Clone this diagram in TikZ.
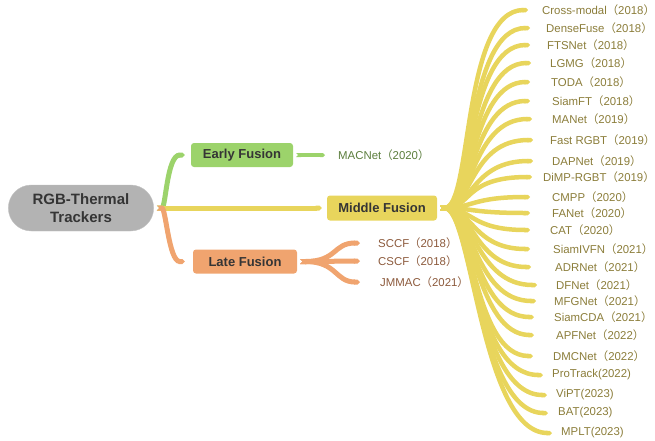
\documentclass[tikz,border=0pt]{standalone}
\usepackage{fontspec}
\setmainfont{Liberation Sans}
\newfontfamily\cjk{Noto Sans CJK SC}
\usetikzlibrary{positioning}
\usetikzlibrary{shapes.misc, arrows.meta}

\definecolor{rootgray}{HTML}{B3B3B3}
\definecolor{efgreen}{HTML}{9CD36B}
\definecolor{mfyellow}{HTML}{E8D55C}
\definecolor{lforange}{HTML}{F0A46F}
\definecolor{boxtext}{HTML}{353535}
\definecolor{midtext}{HTML}{8B7D3A}
\definecolor{latetext}{HTML}{8C5A3C}
\definecolor{earlytext}{HTML}{5B7D3C}

\newcommand\yr[1]{{\cjk （}#1{\cjk ）}}

\tikzset{
  rootbox/.style={rounded rectangle,fill=rootgray,draw=rootgray!80!white,
    minimum width=152pt,minimum height=46pt,align=center,text=boxtext,
    font=\bfseries\fontsize{15}{18}\selectfont},
  fusebox/.style={rectangle,rounded corners=3pt,minimum height=24pt,text=boxtext,
    font=\bfseries\fontsize{13}{15}\selectfont},
  leafm/.style={anchor=west,inner sep=0pt,text=midtext,font=\fontsize{11.4}{14}\selectfont},
  leafl/.style={leafm,text=latetext},
  leafe/.style={leafm,text=earlytext},
  branch/.style={draw=#1,line width=5pt,arrows={Triangle Cap[reversed]-Triangle Cap}}
}

\begin{document}
\begin{tikzpicture}[x=1pt,y=-1pt]
\useasboundingbox (0,0) rectangle (655,440);

\node[rootbox] (root) at (81,208) {RGB-Thermal\\Trackers};
\node[fusebox,fill=efgreen,minimum width=102pt] (early) at (242,155) {Early Fusion};
\node[fusebox,fill=mfyellow,minimum width=110pt,minimum height=25pt] (middle) at (382,208) {Middle Fusion};
\node[fusebox,fill=lforange,minimum width=104pt] (late) at (245,261.5) {Late Fusion};

% first level
\draw[branch=efgreen,shorten <=3pt,shorten >=6pt] (root.east) .. controls +(12,0) and +(-24,0) .. (early.west);
\draw[branch=mfyellow,shorten <=3pt,shorten >=5pt] (root.east) -- (middle.west);
\draw[branch=lforange,shorten <=3pt,shorten >=8pt] (root.east) .. controls +(12,0) and +(-24,0) .. (late.west);

% early fusion
\node[leafe] (macnet) at (338,155) {MACNet\yr{2020}};
\draw[branch=efgreen,line width=4pt,shorten <=3pt,shorten >=13pt] (early.east) -- (macnet.west);

% late fusion
\foreach \nm/\txt/\xx/\yy/\g in {sccf/SCCF\yr{2018}/378/243/18,
    cscf/CSCF\yr{2018}/378/261/18, jmmac/JMMAC\yr{2021}/380/282/20}{
  \node[leafl] (\nm) at (\xx,\yy) {\txt};
  \draw[branch=lforange,shorten <=3pt,shorten >=\g pt] (late.east) .. controls +(40,0) and +(-45,0) .. (\nm.west);
}

% middle fusion
\foreach \nm/\txt/\xx/\yy/\g in {cm/Cross-modal\yr{2018}/542/10/14,
    dfuse/DenseFuse\yr{2018}/546/28/16, fts/FTSNet\yr{2018}/547/45/17,
    lgmg/LGMG\yr{2018}/550/63/19, toda/TODA\yr{2018}/551/82/21,
    sft/SiamFT\yr{2018}/552/101/22, manet/MANet\yr{2019}/552/119/20,
    frgbt/Fast RGBT\yr{2019}/550/140/17, dap/DAPNet\yr{2019}/552/161/19,
    dimp/DiMP-RGBT\yr{2019}/543/177/11, cmpp/CMPP\yr{2020}/552/197/22,
    fanet/FANet\yr{2020}/552/213/22, cat/CAT\yr{2020}/550/230/20,
    sivfn/SiamIVFN\yr{2021}/553/249/23, adr/ADRNet\yr{2021}/555/267/24,
    dfn/DFNet\yr{2021}/556/285/19, mfg/MFGNet\yr{2021}/554/301/18,
    scda/SiamCDA\yr{2021}/554/317/20, apf/APFNet\yr{2022}/556/335/22,
    dmc/DMCNet\yr{2022}/553/356/20, prot/ProTrack(2022)/552/375/9,
    vipt/ViPT(2023)/556/395/9, bat/BAT(2023)/558/413/10,
    mplt/MPLT(2023)/561/433/9}{
  \node[leafm] (\nm) at (\xx,\yy) {\txt};
  \draw[branch=mfyellow,line width=4.5pt,shorten <=3pt,shorten >=\g pt] (middle.east) .. controls +(35,0) and +(-80,0) .. (\nm.west);
}

\end{tikzpicture}
\end{document}
